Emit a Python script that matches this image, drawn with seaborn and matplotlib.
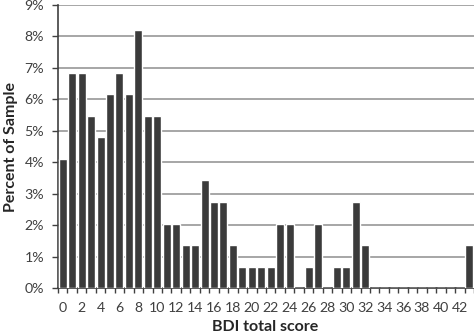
import matplotlib
matplotlib.use("Agg")
import matplotlib.pyplot as plt
import seaborn as sns
import numpy as np
import pandas as pd
from matplotlib.ticker import FixedLocator

scores = list(range(44))
counts_pct = [4.11, 6.85, 6.85, 5.48, 4.79, 6.16, 6.85, 6.16, 8.22, 5.48,
              5.48, 2.05, 2.05, 1.37, 1.37, 3.42, 2.74, 2.74, 1.37, 0.68,
              0.68, 0.68, 0.68, 2.05, 2.05, 0.0, 0.68, 2.05, 0.0, 0.68,
              0.68, 2.74, 1.37, 0.0, 0.0, 0.0, 0.0, 0.0, 0.0, 0.0,
              0.0, 0.0, 0.0, 1.37]
y_ticks = [0, 1, 2, 3, 4, 5, 6, 7, 8, 9]
x_label_scores = list(range(0, 44, 2))

sns.set_style("white")
plt.rcParams['font.family'] = ['Lato', 'DejaVu Sans']

df = pd.DataFrame({"score": scores, "pct": counts_pct})

fig = plt.figure(figsize=(4.74, 3.35), dpi=100)
ax = fig.add_axes([58/474, 1-288/335, 1-58/474, 283/335])

sns.barplot(data=df, x="score", y="pct", color="#3b3b3b", saturation=1,
            width=0.84, ax=ax, zorder=3)

ax.set_xlim(-0.5, 43.5)
ax.set_ylim(0, 9)
ax.set_yticks(y_ticks)
ax.set_yticklabels([f"{v}%" for v in y_ticks])
ax.yaxis.grid(True, color="#a6a6a6", linewidth=1.4, zorder=0)
ax.set_axisbelow(True)

ax.set_xticks(x_label_scores)
ax.set_xticklabels([str(v) for v in x_label_scores])
ax.xaxis.set_minor_locator(FixedLocator(np.arange(-0.5, 44, 1)))
ax.tick_params(axis="x", which="major", length=0, pad=10, labelsize=10.2, colors="#404040")
ax.tick_params(axis="x", which="minor", length=3.5, width=1, color="#404040", direction="out", bottom=True)
ax.tick_params(axis="y", which="major", length=4, width=1, color="#404040", left=True, labelsize=10.2, pad=6)
for t in ax.get_yticklabels():
    t.set_color("#404040")

for s in ["top", "right"]:
    ax.spines[s].set_visible(False)
ax.spines["left"].set_color("#404040")
ax.spines["bottom"].set_color("#404040")
ax.spines["left"].set_linewidth(1.2)
ax.spines["bottom"].set_linewidth(1.2)

ax.set_xlabel("BDI total score", fontsize=11.5, fontweight="bold", color="#262626",
              va="bottom")
ax.xaxis.set_label_coords((265 - 58) / 416, (288 - 334) / 283)
ax.set_ylabel("Percent of Sample", fontsize=11.5, fontweight="bold", color="#262626", labelpad=5)

fig.savefig("out.png", dpi=100)
